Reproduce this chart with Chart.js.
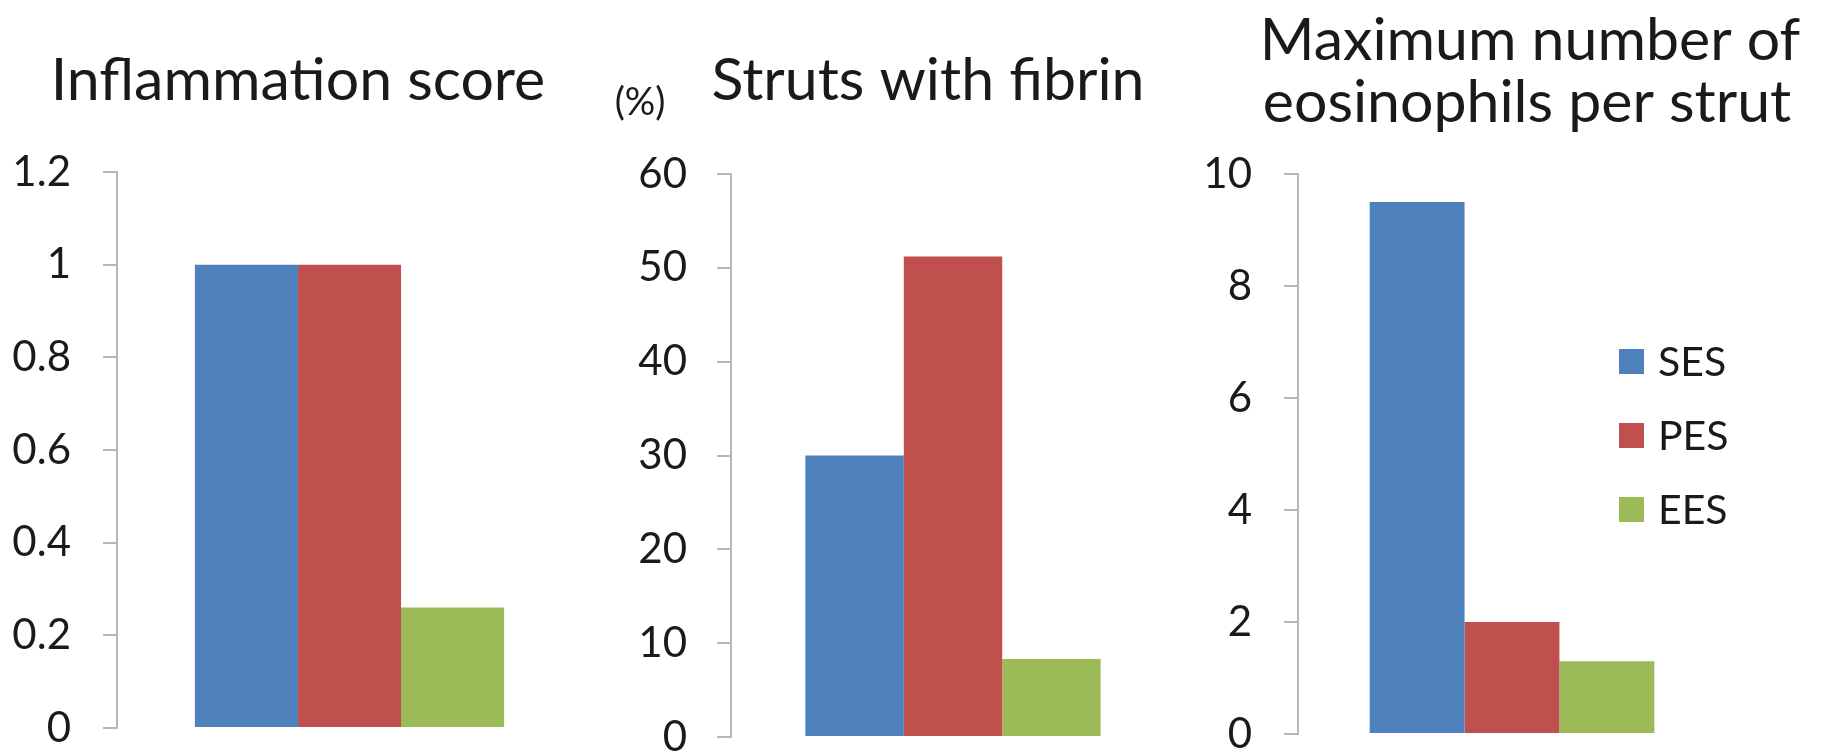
<!DOCTYPE html>
<html>
<head>
<meta charset="utf-8">
<title>SES / PES / EES histology</title>
<script src="https://cdn.jsdelivr.net/npm/chart.js@4.4.0/dist/chart.umd.min.js"></script>
<style>
    html, body { margin: 0; padding: 0; background: #fff; }
    #wrap { position: relative; width: 1825px; height: 754px; }
    #wrap canvas { position: absolute; left: 0; top: 0; }
</style>
</head>
<body>
<div id="wrap">
    <canvas id="inflammationChart" width="1825" height="754"></canvas>
    <canvas id="fibrinChart" width="1825" height="754"></canvas>
    <canvas id="eosinophilChart" width="1825" height="754"></canvas>
</div>
<script>
// Data
const stents = ['SES', 'PES', 'EES'];
const inflammationScore = [1.0, 1.0, 0.26];
const fibrinStruts = [30, 51.2, 8.3];          // %
const eosinophilsMax = [9.5, 2.0, 1.3];
const inflammationTicks = ['0', '0.2', '0.4', '0.6', '0.8', '1', '1.2'];
const fibrinTicks = ['0', '10', '20', '30', '40', '50', '60'];
const eosinophilTicks = ['0', '2', '4', '6', '8', '10'];

const barColors = ['#4F81BD', '#C0504D', '#9BBB59'];
const axisGray = '#B7B7B7';
const textColor = '#1a1a1a';
const FONT = 'Lato, "Open Sans", sans-serif';

// draws panel titles / unit labels at fixed spots
const panelText = {
    id: 'panelText',
    afterDraw(chart, args, opts) {
        if (!opts.items) return;
        const ctx = chart.ctx;
        ctx.save();
        ctx.fillStyle = textColor;
        ctx.textAlign = 'center';
        ctx.textBaseline = 'alphabetic';
        opts.items.forEach(item => {
            ctx.font = item.size + 'px ' + FONT;
            ctx.fillText(item.text, item.x, item.y);
        });
        ctx.restore();
    }
};

// vertical legend sitting inside the plot (third panel only)
const sideLegend = {
    id: 'sideLegend',
    afterDraw(chart, args, opts) {
        if (!opts.show) return;
        const ctx = chart.ctx;
        ctx.save();
        ctx.font = opts.size + 'px ' + FONT;
        ctx.textAlign = 'left';
        ctx.textBaseline = 'alphabetic';
        chart.data.datasets.forEach((ds, i) => {
            const top = opts.y + i * opts.step;
            ctx.fillStyle = ds.backgroundColor;
            ctx.fillRect(opts.x, top, opts.box, opts.box);
            ctx.fillStyle = textColor;
            ctx.fillText(ds.label, opts.x + opts.box + opts.textGap, top + opts.baseline);
        });
        ctx.restore();
    }
};

function makePanel(canvasId, values, tickLabels, max, step, area, texts, legend) {
    const AXIS_W = 116; // wide enough that tick labels aren't clipped
    return new Chart(document.getElementById(canvasId), {
        type: 'bar',
        data: {
            labels: [''],
            datasets: stents.map((name, i) => ({
                label: name,
                data: [values[i]],
                backgroundColor: barColors[i],
                borderWidth: 0,
                categoryPercentage: 0.665,
                barPercentage: 1.0
            }))
        },
        options: {
            responsive: false,
            animation: false,
            events: [],
            layout: {
                padding: {
                    left: area.axisX - AXIS_W,
                    top: area.top,
                    right: 1825 - area.right,
                    bottom: 754 - area.bottom
                }
            },
            scales: {
                x: { display: false },
                y: {
                    min: 0,
                    max: max,
                    // fixed width, and don't let label padding push the plot edges
                    afterFit: scale => {
                        scale.width = AXIS_W;
                        scale.paddingTop = 0;
                        scale.paddingBottom = 0;
                    },
                    ticks: {
                        stepSize: step,
                        padding: area.labelPad,
                        color: textColor,
                        font: { family: FONT, size: 42 },
                        callback: (v, i) => tickLabels[i]
                    },
                    grid: {
                        drawOnChartArea: false,
                        drawTicks: true,
                        tickLength: 14,
                        color: axisGray,
                        lineWidth: 2
                    },
                    border: { display: true, color: axisGray, width: 2 }
                }
            },
            plugins: {
                legend: { display: false },
                title: { display: false },
                tooltip: { enabled: false },
                panelText: { items: texts },
                sideLegend: legend || { show: false }
            }
        },
        plugins: [panelText, sideLegend]
    });
}

makePanel('inflammationChart', inflammationScore, inflammationTicks, 1.2, 0.2,
    { axisX: 117, top: 172, bottom: 728, right: 582, labelPad: 32 },
    [{ text: 'Inflammation score', x: 298, y: 100, size: 59 }]);

makePanel('fibrinChart', fibrinStruts, fibrinTicks, 60, 10,
    { axisX: 731, top: 174, bottom: 737, right: 1175, labelPad: 30 },
    [{ text: 'Struts with fibrin', x: 928, y: 100, size: 59 },
     { text: '(%)', x: 640, y: 115, size: 38 }]);

makePanel('eosinophilChart', eosinophilsMax, eosinophilTicks, 10, 2,
    { axisX: 1298, top: 174, bottom: 734, right: 1726, labelPad: 32 },
    [{ text: 'Maximum number of', x: 1530, y: 60, size: 59 },
     { text: 'eosinophils per strut', x: 1527, y: 122, size: 59 }],
    { show: true, x: 1619, y: 349, step: 74, box: 25, textGap: 14, size: 41, baseline: 27 });
</script>
</body>
</html>
